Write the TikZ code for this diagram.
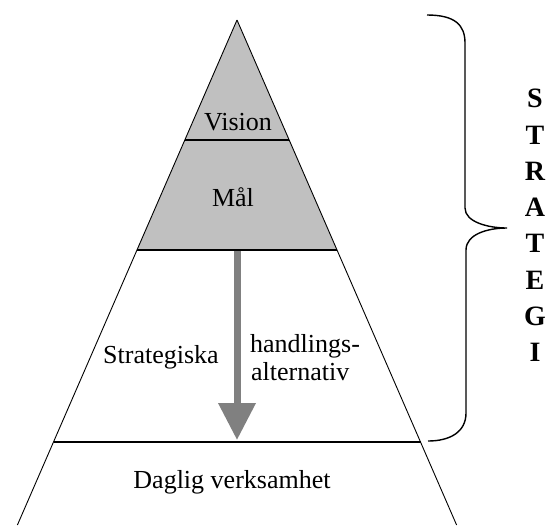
\documentclass[tikz,border=0pt]{standalone}
\usepackage{fontspec}
\setmainfont{Liberation Serif}
\usetikzlibrary{arrows.meta}
\definecolor{topgray}{RGB}{192,192,192}
\definecolor{arrowgray}{RGB}{128,128,128}
\tikzset{
  edge/.style={draw=black, line width=0.9pt},
  level/.style={draw=black, line width=1.1pt},
  lbl/.style={font=\fontsize{26}{30}\selectfont, inner sep=0pt},
  bracestyle/.style={draw=black, line width=1.4pt},
  bigarrow/.style={draw=arrowgray, line width=7pt, -{Triangle[width=36pt,length=37pt]}},
}
\begin{document}
\begin{tikzpicture}[x=1pt,y=-1pt]
\useasboundingbox (0,0) rectangle (548,525);
% named points
\coordinate (apex) at (237,20);
\coordinate (vl) at (184.8,140); \coordinate (vr) at (289.2,140);
\coordinate (ml) at (137,250);   \coordinate (mr) at (337,250);
\coordinate (dl) at (53.5,442);  \coordinate (dr) at (420.5,442);
\coordinate (bl) at (17.4,525);  \coordinate (br) at (456.6,525);
\coordinate (arrowstart) at (237,250);
\coordinate (arrowend) at (237,440);
% grey top
\fill[topgray] (apex) -- (ml) -- (mr) -- cycle;
% arrow
\draw[bigarrow] (arrowstart) -- (arrowend);
% pyramid edges and levels
\draw[edge] (apex) -- (bl);
\draw[edge] (apex) -- (br);
\draw[level] (vl) -- (vr);
\draw[level] (ml) -- (mr);
\draw[level] (dl) -- (dr);
% labels
\node[lbl, anchor=base] (vision) at (238,130) {Vision};
\node[lbl, anchor=base] (mal) at (233,206) {Mål};
\node[lbl, anchor=base] (strat) at (161,363) {Strategiska};
\node[lbl, anchor=base west] (hand) at (250,352) {handlings-};
\node[lbl, anchor=base west] (alt) at (251,380) {alternativ};
\node[lbl, anchor=base] (daglig) at (232,488) {Daglig verksamhet};
% brace
\coordinate (b1) at (427,15);
\coordinate (b2) at (465,43);
\coordinate (b3) at (465,208);
\coordinate (tip) at (507,228);
\coordinate (b4) at (466,250);
\coordinate (b5) at (466,413);
\coordinate (b6) at (428,441);
\draw[bracestyle] (b1) .. controls (455,15) and (465,25) .. (b2) -- (b3)
  .. controls (465,222) and (488,228) .. (tip)
  .. controls (488,228) and (466,234) .. (b4) -- (b5)
  .. controls (466,432) and (450,441) .. (b6);
% STRATEGI
\node[font=\fontsize{28}{36.3}\selectfont\bfseries, align=center, anchor=north, inner sep=0pt] (strategi) at (535,89)
  {S\\T\\R\\A\\T\\E\\G\\I};
\end{tikzpicture}
\end{document}
